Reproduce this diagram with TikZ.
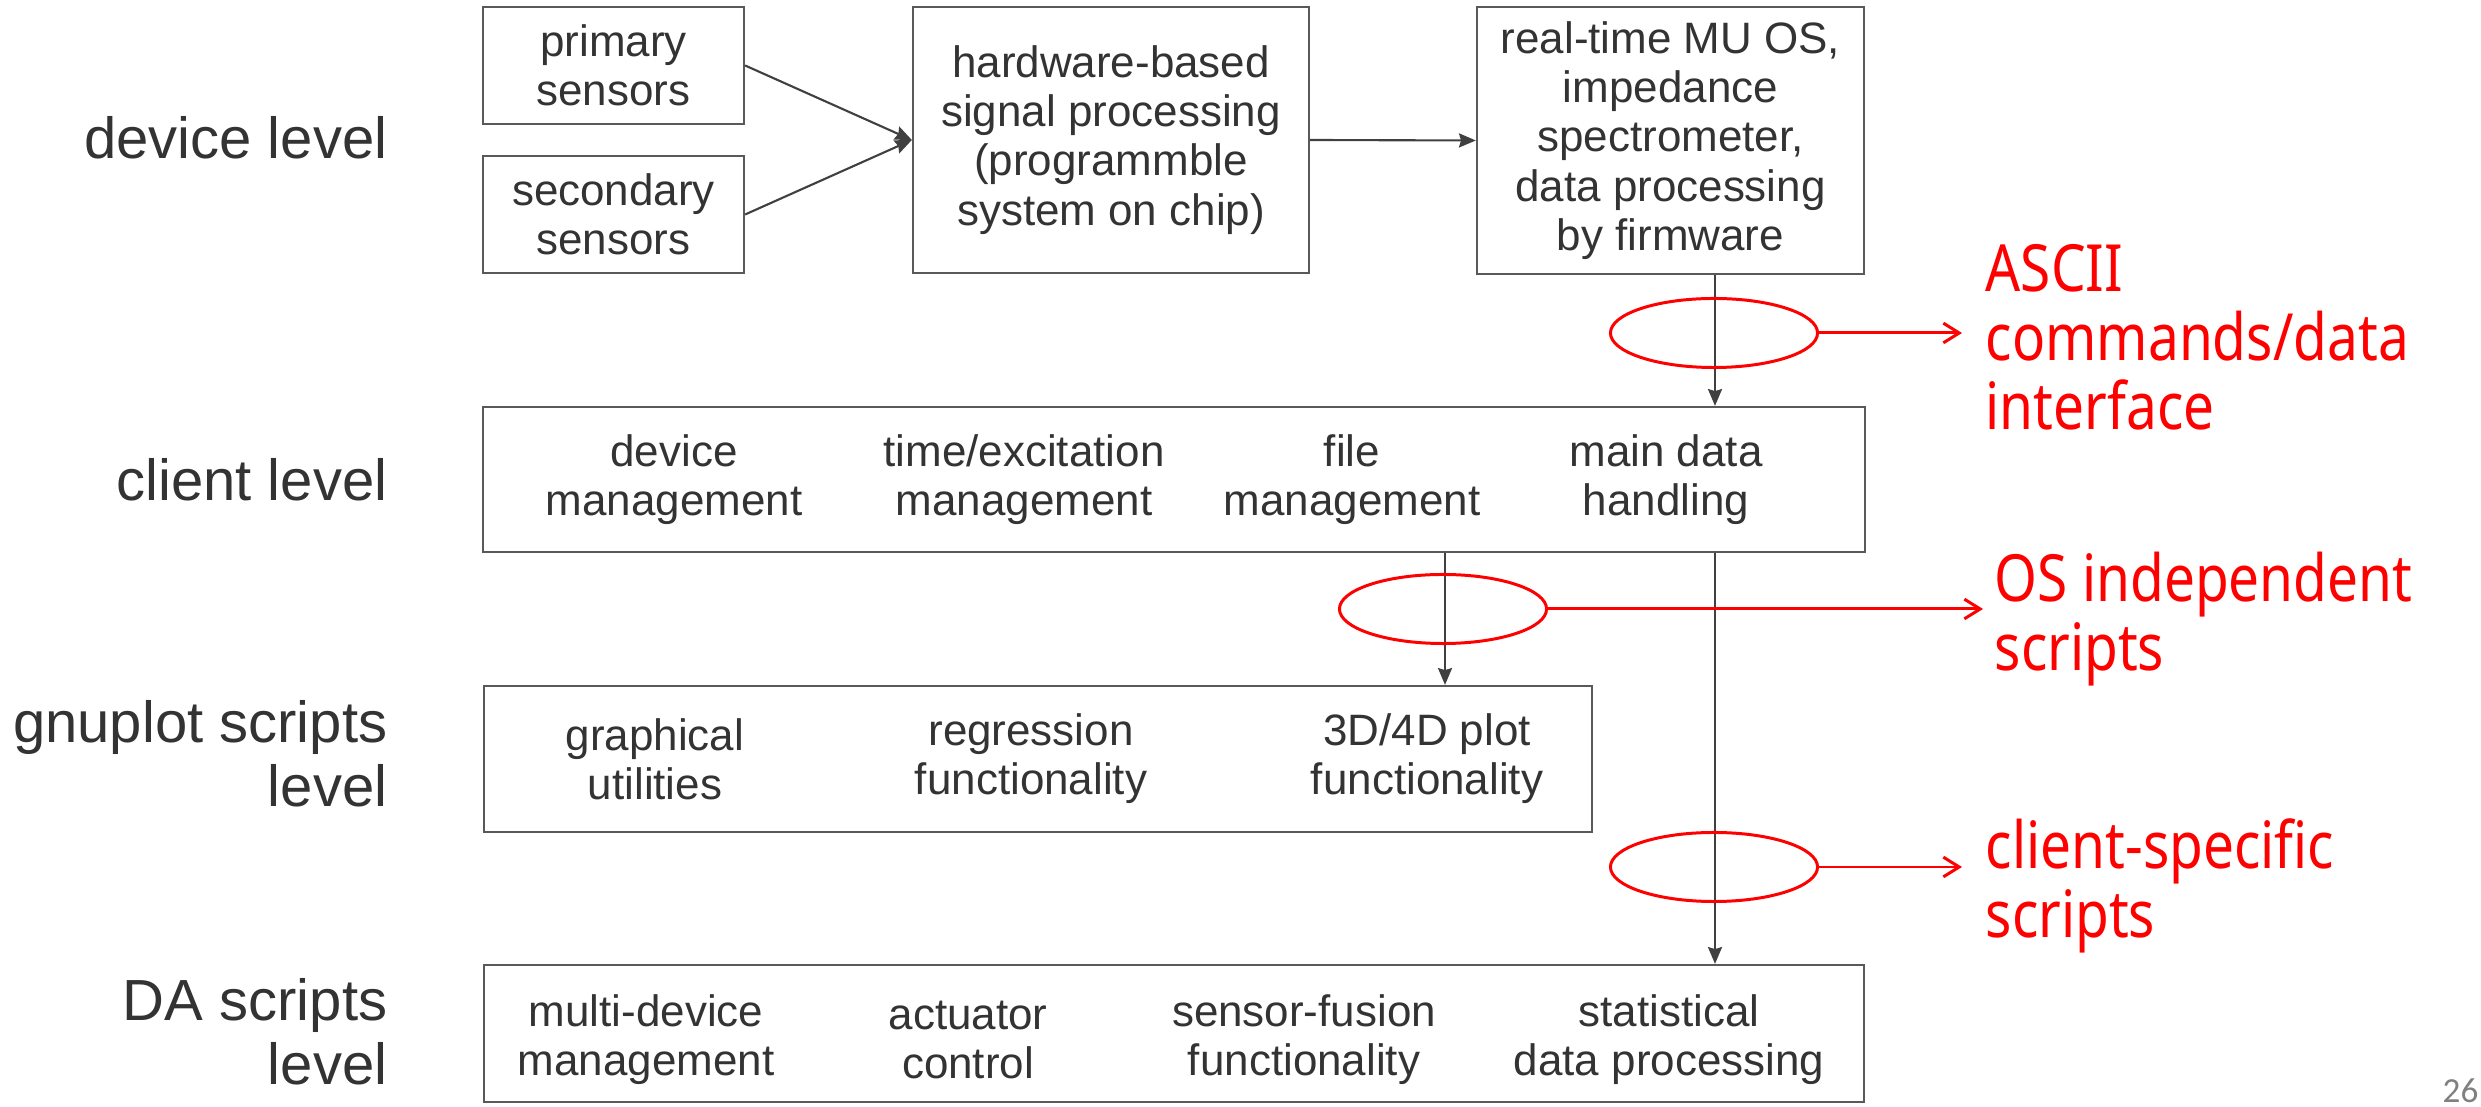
\documentclass[tikz,border=0pt]{standalone}
\usepackage{fontspec}
\setmainfont{Liberation Sans}
\newfontfamily\notefont{Noto Sans}[FakeStretch=0.845]
\newfontfamily\pagefont{Carlito}
\usetikzlibrary{arrows.meta,shapes.geometric}
\definecolor{ink}{HTML}{333333}
\definecolor{frame}{HTML}{595959}
\definecolor{wire}{HTML}{404040}
\definecolor{hl}{HTML}{FF0000}
\definecolor{pagegray}{HTML}{808080}
\tikzset{
	box/.style={draw=frame, line width=0.6pt, inner sep=0pt},
	txt/.style={text=ink, align=center, inner sep=0pt, font=\fontsize{12.5}{14}\selectfont},
	lvl/.style={text=ink, align=right, inner sep=0pt, anchor=east, font=\fontsize{16.5}{18.2}\selectfont},
	link/.style={draw=wire, line width=0.6pt, -{Stealth[length=4.8pt,width=4pt,inset=0.6pt]}},
	ring/.style={ellipse, draw=hl, line width=0.85pt, minimum width=2.07cm, minimum height=0.69cm, inner sep=0pt},
	hint/.style={draw=hl, line width=0.85pt, -{Straight Barb[length=4.5pt,width=5.6pt]}},
	note/.style={text=hl, align=left, inner sep=0pt, anchor=west, font=\notefont\fontsize{18.5}{19.6}\selectfont}
}

\begin{document}
\begin{tikzpicture}[x=0.01cm, y=-0.01cm]
		\useasboundingbox (0,0) rectangle (2481,1107);
		%%%%% START %%%%%
		% levels
		\node[lvl, anchor=base east] (Ldev) at (388,159) {device level};
		\node[lvl, anchor=base east] (Lcli) at (388,501) {client level};
		\node[lvl] (Lgnu) at (388,754) {gnuplot scripts\\level};
		\node[lvl] (Lda) at (388,1032) {DA scripts\\level};
		
		% device level
		\node[box, txt, minimum width=2.61cm, minimum height=1.17cm] (prim) at (613.5,65.5) {primary\\sensors};
		\node[box, txt, minimum width=2.61cm, minimum height=1.17cm] (sec) at (613.5,214.5) {secondary\\sensors};
		\node[box, txt, minimum width=3.96cm, minimum height=2.66cm] (hw) at (1111,140) {hardware-based\\signal processing\\(programmble\\system on chip)};
		\node[box, txt, minimum width=3.87cm, minimum height=2.67cm] (rt) at (1670.5,140.5) {real-time MU OS,\\impedance\\spectrometer,\\data processing\\by firmware};
		
		\draw[link] (prim.east) -- (hw.west);
		\draw[link] (sec.east) -- (hw.west);
		\draw[link] (hw.east) -- (rt.west);
		
		% client level
		\node[box, minimum width=13.82cm, minimum height=1.45cm] (client) at (1174,479.5) {};
		\node[txt] (c1) at (674,480) {device\\management};
		\node[txt] (c2) at (1024,480) {time/excitation\\management};
		\node[txt] (c3) at (1352,480) {file\\management};
		\node[txt] (c4) at (1666,480) {main data\\handling};
		
		% gnuplot scripts level
		\node[box, minimum width=11.08cm, minimum height=1.46cm] (gnu) at (1038,759) {};
		\node[txt] (g1) at (655,759) {graphical\\utilities};
		\node[txt] (g2) at (1031,759) {regression\\functionality};
		\node[txt] (g3) at (1427,759) {3D/4D plot\\functionality};
		
		% DA scripts level
		\node[box, minimum width=13.80cm, minimum height=1.37cm] (da) at (1174,1033.5) {};
		\node[txt] (d1) at (646,1040) {multi-device\\management};
		\node[txt] (d2) at (968,1040) {actuator\\control};
		\node[txt] (d3) at (1304,1040) {sensor-fusion\\functionality};
		\node[txt] (d4) at (1669,1040) {statistical\\data processing};
		
		% vertical flow
		\coordinate (fileX) at (1445,0);
		\coordinate (mainX) at (1715,0);
		\draw[link] (rt.south -| mainX) -- (client.north -| mainX);
		\draw[link] (client.south -| fileX) -- (gnu.north -| fileX);
		\draw[link] (client.south -| mainX) -- (da.north -| mainX);
		
		% interfaces
		\node[ring] (r1) at (1714,333) {};
		\node[ring] (r2) at (1443,609) {};
		\node[ring] (r3) at (1714,867) {};
		\coordinate (h1) at (1962,333);
		\coordinate (h2) at (1983,609);
		\coordinate (h3) at (1962,867);
		\draw[hint] (r1.east) -- (h1);
		\draw[hint] (r2.east) -- (h2);
		\draw[hint] (r3.east) -- (h3);
		\node[note] (n1) at (1985,337) {ASCII\\commands/data\\interface};
		\node[note] (n2) at (1994,619) {OS independent\\scripts};
		\node[note] (n3) at (1985,886) {client-specific\\scripts};
		
		\node[anchor=base east, inner sep=0pt, text=pagegray, font=\pagefont\fontsize{10}{12}\selectfont] (pg) at (2479,1103) {26};
		%%%%% END %%%%%
\end{tikzpicture}
\end{document}
